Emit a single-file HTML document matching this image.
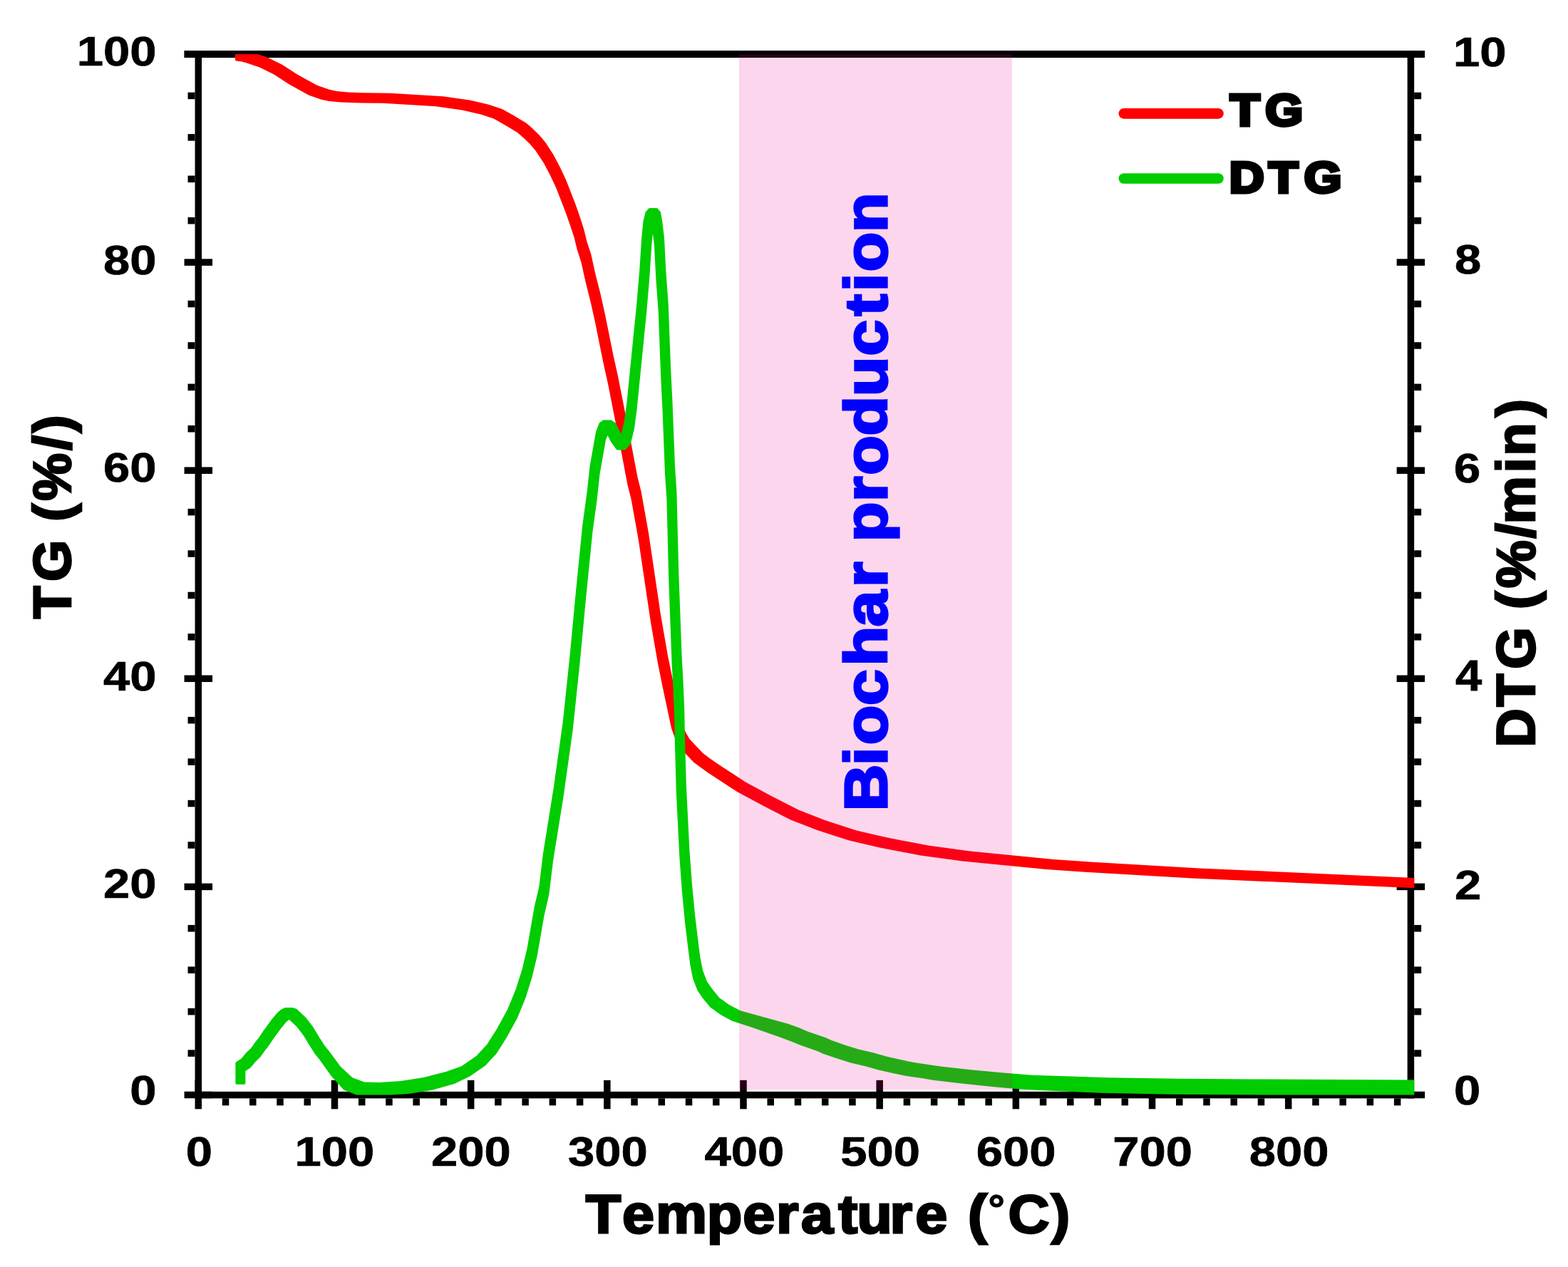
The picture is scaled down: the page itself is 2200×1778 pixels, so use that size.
<!DOCTYPE html>
<html><head><meta charset="utf-8"><title>TG / DTG</title>
<style>html,body{margin:0;padding:0;background:#fff;} svg{display:block;}</style>
</head><body>
<svg xmlns="http://www.w3.org/2000/svg" width="2200" height="1778" viewBox="0 0 2200 1778" style="font-kerning:none">
<rect x="0" y="0" width="2200" height="1778" fill="#fff"/>
<rect x="273.55" y="71.00" width="9.50" height="1470.35" fill="#000"/>
<rect x="1974.65" y="71.00" width="9.50" height="1470.35" fill="#000"/>
<rect x="258.70" y="71.00" width="1740.20" height="10.00" fill="#000"/>
<rect x="273.55" y="1531.85" width="1710.60" height="9.50" fill="#000"/>
<rect x="258.55" y="1531.75" width="39.50" height="9.50" fill="#000"/>
<rect x="1959.65" y="1531.75" width="39.50" height="9.50" fill="#000"/>
<rect x="263.55" y="1473.33" width="10.00" height="9.50" fill="#000"/>
<rect x="1984.15" y="1473.33" width="10.00" height="9.50" fill="#000"/>
<rect x="263.55" y="1414.91" width="10.00" height="9.50" fill="#000"/>
<rect x="1984.15" y="1414.91" width="10.00" height="9.50" fill="#000"/>
<rect x="263.55" y="1356.49" width="10.00" height="9.50" fill="#000"/>
<rect x="1984.15" y="1356.49" width="10.00" height="9.50" fill="#000"/>
<rect x="263.55" y="1298.07" width="10.00" height="9.50" fill="#000"/>
<rect x="1984.15" y="1298.07" width="10.00" height="9.50" fill="#000"/>
<rect x="258.55" y="1239.65" width="39.50" height="9.50" fill="#000"/>
<rect x="1959.65" y="1239.65" width="39.50" height="9.50" fill="#000"/>
<rect x="263.55" y="1181.23" width="10.00" height="9.50" fill="#000"/>
<rect x="1984.15" y="1181.23" width="10.00" height="9.50" fill="#000"/>
<rect x="263.55" y="1122.81" width="10.00" height="9.50" fill="#000"/>
<rect x="1984.15" y="1122.81" width="10.00" height="9.50" fill="#000"/>
<rect x="263.55" y="1064.39" width="10.00" height="9.50" fill="#000"/>
<rect x="1984.15" y="1064.39" width="10.00" height="9.50" fill="#000"/>
<rect x="263.55" y="1005.97" width="10.00" height="9.50" fill="#000"/>
<rect x="1984.15" y="1005.97" width="10.00" height="9.50" fill="#000"/>
<rect x="258.55" y="947.55" width="39.50" height="9.50" fill="#000"/>
<rect x="1959.65" y="947.55" width="39.50" height="9.50" fill="#000"/>
<rect x="263.55" y="889.13" width="10.00" height="9.50" fill="#000"/>
<rect x="1984.15" y="889.13" width="10.00" height="9.50" fill="#000"/>
<rect x="263.55" y="830.71" width="10.00" height="9.50" fill="#000"/>
<rect x="1984.15" y="830.71" width="10.00" height="9.50" fill="#000"/>
<rect x="263.55" y="772.29" width="10.00" height="9.50" fill="#000"/>
<rect x="1984.15" y="772.29" width="10.00" height="9.50" fill="#000"/>
<rect x="263.55" y="713.87" width="10.00" height="9.50" fill="#000"/>
<rect x="1984.15" y="713.87" width="10.00" height="9.50" fill="#000"/>
<rect x="258.55" y="655.45" width="39.50" height="9.50" fill="#000"/>
<rect x="1959.65" y="655.45" width="39.50" height="9.50" fill="#000"/>
<rect x="263.55" y="597.03" width="10.00" height="9.50" fill="#000"/>
<rect x="1984.15" y="597.03" width="10.00" height="9.50" fill="#000"/>
<rect x="263.55" y="538.61" width="10.00" height="9.50" fill="#000"/>
<rect x="1984.15" y="538.61" width="10.00" height="9.50" fill="#000"/>
<rect x="263.55" y="480.19" width="10.00" height="9.50" fill="#000"/>
<rect x="1984.15" y="480.19" width="10.00" height="9.50" fill="#000"/>
<rect x="263.55" y="421.77" width="10.00" height="9.50" fill="#000"/>
<rect x="1984.15" y="421.77" width="10.00" height="9.50" fill="#000"/>
<rect x="258.55" y="363.35" width="39.50" height="9.50" fill="#000"/>
<rect x="1959.65" y="363.35" width="39.50" height="9.50" fill="#000"/>
<rect x="263.55" y="304.93" width="10.00" height="9.50" fill="#000"/>
<rect x="1984.15" y="304.93" width="10.00" height="9.50" fill="#000"/>
<rect x="263.55" y="246.51" width="10.00" height="9.50" fill="#000"/>
<rect x="1984.15" y="246.51" width="10.00" height="9.50" fill="#000"/>
<rect x="263.55" y="188.09" width="10.00" height="9.50" fill="#000"/>
<rect x="1984.15" y="188.09" width="10.00" height="9.50" fill="#000"/>
<rect x="263.55" y="129.67" width="10.00" height="9.50" fill="#000"/>
<rect x="1984.15" y="129.67" width="10.00" height="9.50" fill="#000"/>
<rect x="258.55" y="71.25" width="39.50" height="9.50" fill="#000"/>
<rect x="1959.65" y="71.25" width="39.50" height="9.50" fill="#000"/>
<rect x="273.55" y="1515.85" width="9.50" height="40.50" fill="#000"/>
<rect x="311.79" y="1541.35" width="9.50" height="10.00" fill="#000"/>
<rect x="350.02" y="1541.35" width="9.50" height="10.00" fill="#000"/>
<rect x="388.25" y="1541.35" width="9.50" height="10.00" fill="#000"/>
<rect x="426.49" y="1541.35" width="9.50" height="10.00" fill="#000"/>
<rect x="464.73" y="1515.85" width="9.50" height="40.50" fill="#000"/>
<rect x="502.96" y="1541.35" width="9.50" height="10.00" fill="#000"/>
<rect x="541.19" y="1541.35" width="9.50" height="10.00" fill="#000"/>
<rect x="579.43" y="1541.35" width="9.50" height="10.00" fill="#000"/>
<rect x="617.66" y="1541.35" width="9.50" height="10.00" fill="#000"/>
<rect x="655.90" y="1515.85" width="9.50" height="40.50" fill="#000"/>
<rect x="694.13" y="1541.35" width="9.50" height="10.00" fill="#000"/>
<rect x="732.37" y="1541.35" width="9.50" height="10.00" fill="#000"/>
<rect x="770.61" y="1541.35" width="9.50" height="10.00" fill="#000"/>
<rect x="808.84" y="1541.35" width="9.50" height="10.00" fill="#000"/>
<rect x="847.08" y="1515.85" width="9.50" height="40.50" fill="#000"/>
<rect x="885.31" y="1541.35" width="9.50" height="10.00" fill="#000"/>
<rect x="923.55" y="1541.35" width="9.50" height="10.00" fill="#000"/>
<rect x="961.78" y="1541.35" width="9.50" height="10.00" fill="#000"/>
<rect x="1000.02" y="1541.35" width="9.50" height="10.00" fill="#000"/>
<rect x="1038.25" y="1515.85" width="9.50" height="40.50" fill="#000"/>
<rect x="1076.49" y="1541.35" width="9.50" height="10.00" fill="#000"/>
<rect x="1114.72" y="1541.35" width="9.50" height="10.00" fill="#000"/>
<rect x="1152.95" y="1541.35" width="9.50" height="10.00" fill="#000"/>
<rect x="1191.19" y="1541.35" width="9.50" height="10.00" fill="#000"/>
<rect x="1229.42" y="1515.85" width="9.50" height="40.50" fill="#000"/>
<rect x="1267.66" y="1541.35" width="9.50" height="10.00" fill="#000"/>
<rect x="1305.89" y="1541.35" width="9.50" height="10.00" fill="#000"/>
<rect x="1344.13" y="1541.35" width="9.50" height="10.00" fill="#000"/>
<rect x="1382.37" y="1541.35" width="9.50" height="10.00" fill="#000"/>
<rect x="1420.60" y="1515.85" width="9.50" height="40.50" fill="#000"/>
<rect x="1458.84" y="1541.35" width="9.50" height="10.00" fill="#000"/>
<rect x="1497.07" y="1541.35" width="9.50" height="10.00" fill="#000"/>
<rect x="1535.31" y="1541.35" width="9.50" height="10.00" fill="#000"/>
<rect x="1573.54" y="1541.35" width="9.50" height="10.00" fill="#000"/>
<rect x="1611.78" y="1515.85" width="9.50" height="40.50" fill="#000"/>
<rect x="1650.01" y="1541.35" width="9.50" height="10.00" fill="#000"/>
<rect x="1688.24" y="1541.35" width="9.50" height="10.00" fill="#000"/>
<rect x="1726.48" y="1541.35" width="9.50" height="10.00" fill="#000"/>
<rect x="1764.71" y="1541.35" width="9.50" height="10.00" fill="#000"/>
<rect x="1802.95" y="1515.85" width="9.50" height="40.50" fill="#000"/>
<rect x="1841.18" y="1541.35" width="9.50" height="10.00" fill="#000"/>
<rect x="1879.42" y="1541.35" width="9.50" height="10.00" fill="#000"/>
<rect x="1917.65" y="1541.35" width="9.50" height="10.00" fill="#000"/>
<rect x="1955.89" y="1541.35" width="9.50" height="10.00" fill="#000"/>
<path d="M405.2,118.0 L433.1,133.4 L450.2,139.4 L461.6,142.0 L478.7,143.6 L499.8,144.3 L537.0,144.7 L611.4,149.3 L648.4,154.5 L674.5,160.5 L692.7,166.4 L707.7,174.9 L726.0,185.9 L734.6,193.5 L744.1,202.8 L751.9,212.0 L763.0,229.0 L772.1,246.2 L780.2,263.4 L793.6,297.9 L799.9,315.9 L805.5,333.1 L809.8,350.5 L815.4,367.7 L821.4,394.7 L828.6,423.5 L835.0,452.2 L846.6,509.8 L853.0,538.6 L870.0,625.0 L880.5,680.4 L885.6,700.6 L895.9,758.1 L913.0,873.3 L923.0,930.9 L930.0,965.4 L942.0,1021.9 L948.1,1038.7 L954.5,1049.9 L973.6,1069.9 L983.8,1077.6 L993.5,1084.5 L1034.1,1111.1 L1071.3,1131.1 L1108.8,1150.2 L1146.1,1164.7 L1174.4,1174.1 L1190.8,1179.2 L1233.3,1189.2 L1291.9,1200.6 L1350.8,1208.4 L1468.1,1220.1 L1526.9,1224.0 L1672.7,1232.4 L1978.7,1246.1 L1984.3,1246.1 L1984.3,1231.9 L1682.9,1218.4 L1537.1,1210.0 L1478.5,1206.1 L1361.2,1194.4 L1302.6,1186.6 L1244.1,1175.2 L1201.9,1165.4 L1185.6,1160.3 L1157.4,1150.9 L1120.3,1136.5 L1083.1,1117.5 L1046.0,1097.6 L1005.7,1071.1 L996.2,1064.4 L986.3,1057.0 L967.6,1037.3 L961.8,1027.2 L955.9,1011.0 L944.0,954.6 L937.0,920.2 L927.0,862.7 L909.9,747.4 L899.6,689.8 L894.5,669.6 L884.0,614.2 L867.0,527.8 L860.6,499.0 L849.0,441.4 L842.5,412.6 L835.2,383.7 L829.3,356.8 L823.6,339.4 L819.3,322.0 L813.7,304.6 L807.4,286.5 L793.9,251.9 L785.7,234.4 L776.4,216.9 L765.2,199.7 L757.1,190.1 L747.4,180.6 L738.5,172.8 L719.7,161.5 L704.5,152.9 L685.6,146.7 L659.1,140.5 L621.7,135.3 L547.2,130.7 L509.8,130.3 L488.9,129.6 L472.3,128.0 L461.5,125.6 L444.9,119.8 L417.2,104.6 L395.9,90.7 L375.6,80.8 L361.7,76.0 L330.0,76.0 L330.0,83.5 L330.4,84.7 L331.0,85.2 L331.8,85.5 L339.6,86.5 L346.4,88.4 L364.3,94.6 L384.0,104.2Z" fill="#ff0000"/>
<path d="M362.7,1456.7 L358.2,1462.3 L352.3,1470.7 L345.5,1477.2 L338.6,1485.5 L331.3,1490.3 L330.6,1491.2 L330.4,1492.0 L330.4,1519.8 L330.7,1520.9 L331.3,1521.5 L332.4,1521.8 L342.4,1521.8 L343.2,1521.6 L344.1,1520.9 L344.4,1519.8 L344.4,1503.1 L351.3,1498.5 L358.5,1489.9 L365.4,1483.2 L371.4,1474.7 L376.0,1469.0 L382.9,1458.7 L394.6,1442.7 L401.4,1434.6 L405.5,1430.7 L416.3,1440.8 L425.4,1452.6 L434.8,1468.0 L442.0,1479.3 L447.6,1486.1 L464.8,1510.0 L482.3,1529.6 L500.2,1536.5 L506.7,1536.6 L547.8,1536.6 L573.0,1534.9 L605.3,1529.9 L637.4,1521.1 L659.2,1510.5 L680.8,1495.4 L696.5,1478.7 L710.7,1456.3 L725.7,1429.1 L737.6,1400.1 L746.6,1371.0 L753.6,1342.0 L763.6,1284.5 L770.3,1255.5 L776.0,1208.6 L790.8,1116.4 L803.7,1024.3 L813.4,932.0 L822.1,839.8 L831.3,747.7 L837.7,700.8 L841.5,665.6 L849.9,617.8 L852.5,610.9 L857.4,620.5 L865.1,630.9 L866.5,631.4 L876.5,631.4 L877.3,631.2 L878.0,630.8 L884.8,623.1 L890.0,601.6 L893.5,575.2 L907.3,436.9 L911.2,390.8 L914.2,344.7 L915.9,327.4 L918.0,344.7 L920.3,390.7 L923.7,436.8 L927.2,529.0 L929.5,575.1 L933.0,665.4 L935.4,700.6 L938.3,815.8 L942.6,931.0 L944.5,965.4 L946.2,1005.7 L947.0,1045.9 L948.8,1111.5 L953.4,1203.6 L956.8,1249.7 L961.2,1295.9 L966.0,1335.6 L968.5,1355.1 L972.3,1373.7 L978.6,1390.0 L986.5,1401.4 L996.5,1413.6 L1011.1,1424.1 L1027.4,1432.7 L1057.2,1442.5 L1094.3,1455.6 L1110.3,1461.4 L1122.5,1466.6 L1146.7,1474.9 L1154.3,1478.4 L1174.0,1485.2 L1193.7,1491.4 L1213.2,1495.9 L1232.8,1501.4 L1252.4,1505.9 L1272.0,1510.0 L1294.7,1513.3 L1308.9,1515.7 L1351.8,1520.8 L1394.6,1525.3 L1437.4,1529.1 L1544.7,1533.7 L1645.0,1535.8 L1778.3,1536.6 L1984.3,1536.6 L1984.3,1515.5 L1755.0,1514.5 L1655.0,1513.8 L1554.7,1512.3 L1447.7,1508.7 L1405.0,1505.3 L1362.2,1501.2 L1319.4,1496.5 L1282.6,1491.0 L1263.2,1487.0 L1243.7,1482.6 L1224.2,1477.1 L1204.6,1472.6 L1185.2,1466.4 L1165.7,1459.6 L1158.0,1456.1 L1133.9,1447.8 L1121.7,1442.6 L1105.7,1436.8 L1038.7,1418.3 L1023.1,1410.0 L1009.4,1400.2 L999.6,1388.3 L992.0,1377.4 L986.2,1362.1 L982.5,1343.9 L980.0,1324.5 L975.2,1284.9 L970.8,1238.8 L967.4,1192.8 L962.8,1100.7 L961.0,1035.3 L960.2,994.9 L958.5,954.6 L956.6,920.2 L952.3,805.0 L949.4,689.9 L947.0,654.6 L943.5,564.3 L941.2,518.2 L937.7,426.0 L934.3,379.9 L932.0,333.8 L929.2,310.6 L926.9,297.5 L922.9,292.8 L922.2,292.3 L921.4,292.1 L911.4,292.1 L910.6,292.3 L910.0,292.7 L905.7,297.4 L902.5,310.6 L900.2,333.8 L897.2,379.9 L893.3,425.9 L879.5,564.2 L876.0,590.3 L871.6,608.9 L870.7,607.6 L863.6,593.5 L858.0,589.7 L856.9,589.4 L846.5,589.4 L845.7,589.8 L841.3,593.1 L840.6,594.0 L836.0,606.3 L827.5,654.4 L823.7,689.7 L817.3,736.7 L808.1,828.8 L799.4,921.0 L789.7,1013.2 L776.8,1105.2 L762.0,1197.4 L756.3,1244.4 L749.6,1273.2 L739.6,1330.7 L732.8,1359.4 L723.8,1388.0 L712.1,1416.6 L697.2,1443.7 L683.4,1465.5 L668.4,1481.7 L647.4,1496.3 L626.3,1503.7 L594.4,1512.0 L562.5,1516.9 L532.7,1518.9 L511.0,1518.5 L494.5,1512.3 L477.8,1496.8 L460.8,1473.7 L455.1,1466.8 L448.2,1455.9 L438.7,1440.3 L429.2,1428.1 L416.0,1415.8 L410.6,1414.0 L400.3,1414.0 L399.4,1414.2 L394.1,1416.7 L388.4,1421.9 L381.5,1430.2 L369.6,1446.4Z" fill="#00cc00"/>
<rect x="1036.9" y="76" width="383" height="1453.4" fill="rgb(236,0,142)" fill-opacity="0.16"/>
<line x1="1576.8" y1="159.4" x2="1709.5" y2="159.4" stroke="#ff0000" stroke-width="14.6" stroke-linecap="round"/>
<line x1="1576.8" y1="250.5" x2="1709.5" y2="250.5" stroke="#00cc00" stroke-width="14.6" stroke-linecap="round"/>
<text font-family="Liberation Sans, Arial, sans-serif" font-weight="bold" font-size="100" transform="translate(219.50,92.02) scale(0.6700,0.5795)" text-anchor="end" fill="#000" stroke="#000" stroke-width="0.8" vector-effect="non-scaling-stroke">100</text>
<text font-family="Liberation Sans, Arial, sans-serif" font-weight="bold" font-size="100" transform="translate(219.50,384.63) scale(0.6700,0.5795)" text-anchor="end" fill="#000" stroke="#000" stroke-width="0.8" vector-effect="non-scaling-stroke">80</text>
<text font-family="Liberation Sans, Arial, sans-serif" font-weight="bold" font-size="100" transform="translate(219.50,676.21) scale(0.6700,0.5795)" text-anchor="end" fill="#000" stroke="#000" stroke-width="0.8" vector-effect="non-scaling-stroke">60</text>
<text font-family="Liberation Sans, Arial, sans-serif" font-weight="bold" font-size="100" transform="translate(219.50,968.85) scale(0.6700,0.5795)" text-anchor="end" fill="#000" stroke="#000" stroke-width="0.8" vector-effect="non-scaling-stroke">40</text>
<text font-family="Liberation Sans, Arial, sans-serif" font-weight="bold" font-size="100" transform="translate(219.50,1260.42) scale(0.6700,0.5795)" text-anchor="end" fill="#000" stroke="#000" stroke-width="0.8" vector-effect="non-scaling-stroke">20</text>
<text font-family="Liberation Sans, Arial, sans-serif" font-weight="bold" font-size="100" transform="translate(219.50,1550.02) scale(0.6700,0.5795)" text-anchor="end" fill="#000" stroke="#000" stroke-width="0.8" vector-effect="non-scaling-stroke">0</text>
<text font-family="Liberation Sans, Arial, sans-serif" font-weight="bold" font-size="100" transform="translate(2039.00,92.63) scale(0.6700,0.5795)" fill="#000" stroke="#000" stroke-width="0.8" vector-effect="non-scaling-stroke">10</text>
<text font-family="Liberation Sans, Arial, sans-serif" font-weight="bold" font-size="100" transform="translate(2041.00,384.21) scale(0.6700,0.5795)" fill="#000" stroke="#000" stroke-width="0.8" vector-effect="non-scaling-stroke">8</text>
<text font-family="Liberation Sans, Arial, sans-serif" font-weight="bold" font-size="100" transform="translate(2040.00,676.85) scale(0.6700,0.5795)" fill="#000" stroke="#000" stroke-width="0.8" vector-effect="non-scaling-stroke">6</text>
<text font-family="Liberation Sans, Arial, sans-serif" font-weight="bold" font-size="100" transform="translate(2042.00,969.41) scale(0.6700,0.6072)" fill="#000" stroke="#000" stroke-width="0.8" vector-effect="non-scaling-stroke">4</text>
<text font-family="Liberation Sans, Arial, sans-serif" font-weight="bold" font-size="100" transform="translate(2041.00,1261.98) scale(0.6700,0.5781)" fill="#000" stroke="#000" stroke-width="0.8" vector-effect="non-scaling-stroke">2</text>
<text font-family="Liberation Sans, Arial, sans-serif" font-weight="bold" font-size="100" transform="translate(2040.00,1549.79) scale(0.6700,0.5795)" fill="#000" stroke="#000" stroke-width="0.8" vector-effect="non-scaling-stroke">0</text>
<text font-family="Liberation Sans, Arial, sans-serif" font-weight="bold" font-size="100" transform="translate(279.30,1635.57) scale(0.6700,0.5795)" text-anchor="middle" fill="#000" stroke="#000" stroke-width="0.8" vector-effect="non-scaling-stroke">0</text>
<text font-family="Liberation Sans, Arial, sans-serif" font-weight="bold" font-size="100" transform="translate(469.35,1635.57) scale(0.6700,0.5795)" text-anchor="middle" fill="#000" stroke="#000" stroke-width="0.8" vector-effect="non-scaling-stroke">100</text>
<text font-family="Liberation Sans, Arial, sans-serif" font-weight="bold" font-size="100" transform="translate(660.90,1635.57) scale(0.6700,0.5795)" text-anchor="middle" fill="#000" stroke="#000" stroke-width="0.8" vector-effect="non-scaling-stroke">200</text>
<text font-family="Liberation Sans, Arial, sans-serif" font-weight="bold" font-size="100" transform="translate(852.95,1635.57) scale(0.6700,0.5795)" text-anchor="middle" fill="#000" stroke="#000" stroke-width="0.8" vector-effect="non-scaling-stroke">300</text>
<text font-family="Liberation Sans, Arial, sans-serif" font-weight="bold" font-size="100" transform="translate(1044.50,1635.57) scale(0.6700,0.5795)" text-anchor="middle" fill="#000" stroke="#000" stroke-width="0.8" vector-effect="non-scaling-stroke">400</text>
<text font-family="Liberation Sans, Arial, sans-serif" font-weight="bold" font-size="100" transform="translate(1235.05,1635.57) scale(0.6700,0.5795)" text-anchor="middle" fill="#000" stroke="#000" stroke-width="0.8" vector-effect="non-scaling-stroke">500</text>
<text font-family="Liberation Sans, Arial, sans-serif" font-weight="bold" font-size="100" transform="translate(1425.60,1635.57) scale(0.6700,0.5795)" text-anchor="middle" fill="#000" stroke="#000" stroke-width="0.8" vector-effect="non-scaling-stroke">600</text>
<text font-family="Liberation Sans, Arial, sans-serif" font-weight="bold" font-size="100" transform="translate(1617.15,1635.57) scale(0.6700,0.5795)" text-anchor="middle" fill="#000" stroke="#000" stroke-width="0.8" vector-effect="non-scaling-stroke">700</text>
<text font-family="Liberation Sans, Arial, sans-serif" font-weight="bold" font-size="100" transform="translate(1808.70,1635.57) scale(0.6700,0.5795)" text-anchor="middle" fill="#000" stroke="#000" stroke-width="0.8" vector-effect="non-scaling-stroke">800</text>
<text font-family="Liberation Sans, Arial, sans-serif" font-weight="bold" font-size="100" transform="translate(0,1730.31) scale(0.8100,0.7631)" x="1014.56 1077.85 1135.96 1224.48 1286.74 1344.60 1387.74 1452.09 1484.25 1541.27 1585.51 1641.13 1676.48 1711.69 1746.00 1820.37" fill="#000" stroke="#000" stroke-width="3.0" vector-effect="non-scaling-stroke">Temperature (<tspan font-size="72" dy="-19.20" stroke-width="1.6">°</tspan><tspan dy="19.20">C)</tspan></text>
<text font-family="Liberation Sans, Arial, sans-serif" font-weight="bold" font-size="100" transform="translate(98.95,0) rotate(-90) scale(0.7500,0.7419)" x="-1157.67 -1088.13 -1010.34 -975.53 -937.13 -842.33 -810.13" fill="#000" stroke="#000" stroke-width="2.8" vector-effect="non-scaling-stroke">TG (%/)</text>
<text font-family="Liberation Sans, Arial, sans-serif" font-weight="bold" font-size="100" transform="translate(2153.15,0) rotate(-90) scale(0.7550,0.7525)" x="-1388.99 -1313.45 -1243.87 -1166.07 -1132.42 -1093.20 -1000.34 -973.89 -878.52 -847.00 -775.10" fill="#000" stroke="#000" stroke-width="2.8" vector-effect="non-scaling-stroke">DTG (%/min)</text>
<text font-family="Liberation Sans, Arial, sans-serif" font-weight="bold" font-size="100" transform="translate(1243.80,0) rotate(-90) scale(0.9100,0.8411)" x="-1250.79 -1180.13 -1148.67 -1087.79 -1027.05 -966.13 -905.63 -866.70 -835.41 -773.65 -732.74 -671.97 -610.89 -549.00 -487.21 -449.58 -419.00 -358.37" fill="#0000ff" stroke="#0000ff" stroke-width="3.5" vector-effect="non-scaling-stroke">Biochar production</text>
<text font-family="Liberation Sans, Arial, sans-serif" font-weight="bold" font-size="100" transform="translate(0,175.87) scale(0.6800,0.6265)" x="2538.12 2610.85" fill="#000" stroke="#000" stroke-width="5.0" vector-effect="non-scaling-stroke">TG</text>
<text font-family="Liberation Sans, Arial, sans-serif" font-weight="bold" font-size="100" transform="translate(0,269.72) scale(0.6770,0.6205)" x="2547.65 2629.28 2702.65" fill="#000" stroke="#000" stroke-width="5.0" vector-effect="non-scaling-stroke">DTG</text>
</svg>
</body></html>
